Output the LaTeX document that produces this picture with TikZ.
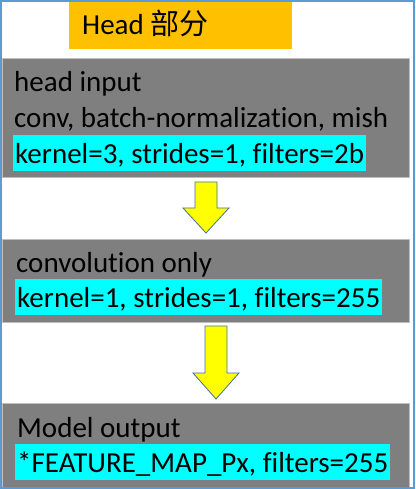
\documentclass[tikz,border=0pt]{standalone}
\usepackage{fontspec}
\setmainfont{Carlito}[Ligatures=NoCommon]
\newfontfamily\cjkfont{Noto Sans CJK SC}
\definecolor{frameblue}{HTML}{5B9BD5}
\definecolor{boxgray}{HTML}{7F7F7F}
\definecolor{boxedge}{HTML}{BFBFBF}
\definecolor{hlcyan}{HTML}{00FFFF}
\definecolor{titleorange}{HTML}{FFC000}
\definecolor{arrowyellow}{HTML}{FFFF00}
\definecolor{arrowedge}{HTML}{41719C}
\begin{document}
\begin{tikzpicture}[x=1pt,y=-1pt,
  graybox/.style={draw=boxedge, fill=boxgray, line width=0.8pt, anchor=north west, inner sep=0pt, minimum width=407pt},
  txt/.style={anchor=base west, inner sep=0pt, font=\fontsize{29}{35}\selectfont, text=black},
  hl/.style={txt, fill=hlcyan, inner xsep=2pt, inner ysep=1pt, text height=27pt, text depth=7pt},
  blockarrow/.style={fill=arrowyellow, draw=arrowedge, line width=0.8pt, line join=miter}]
\useasboundingbox (0,0) rectangle (415,489);
\fill[white] (0,0) rectangle (415,489);
% title
\node[fill=titleorange, anchor=north west, inner sep=0pt, minimum width=223pt, minimum height=49pt] (title) at (69,0) {};
\node[txt] (titletext) at (82,35) {Head {\cjkfont 部分}};
% box 1
\node[graybox, minimum height=119pt] (box1) at (2,58) {};
\node[txt] (l1a) at (14,92) {head input};
\node[txt] (l1b) at (14,128) {conv, batch-normalization, mish};
\node[hl] (l1c) at (13,163) {kernel=3, strides=1, filters=2b};
% box 2
\node[graybox, minimum height=83pt] (box2) at (2,239) {};
\node[txt] (l2a) at (16,272) {convolution only};
\node[hl] (l2b) at (15,307) {kernel=1, strides=1, filters=255};
% box 3
\node[graybox, minimum height=84pt] (box3) at (2,403) {};
\node[txt] (l3a) at (17,437) {Model output};
\node[hl] (l3b) at (15,472) {*FEATURE\_MAP\_Px, filters=255};
% arrows
\draw[blockarrow] (195,182) -- (217,182) -- (217,208) -- (229,208) -- (206,233) -- (183,208) -- (195,208) -- cycle;
\draw[blockarrow] (205,326) -- (227,326) -- (227,373) -- (239,373) -- (216,399) -- (193,373) -- (205,373) -- cycle;
% frame
\draw[frameblue, line width=2pt] (1,1) rectangle (414,488);
\end{tikzpicture}
\end{document}
